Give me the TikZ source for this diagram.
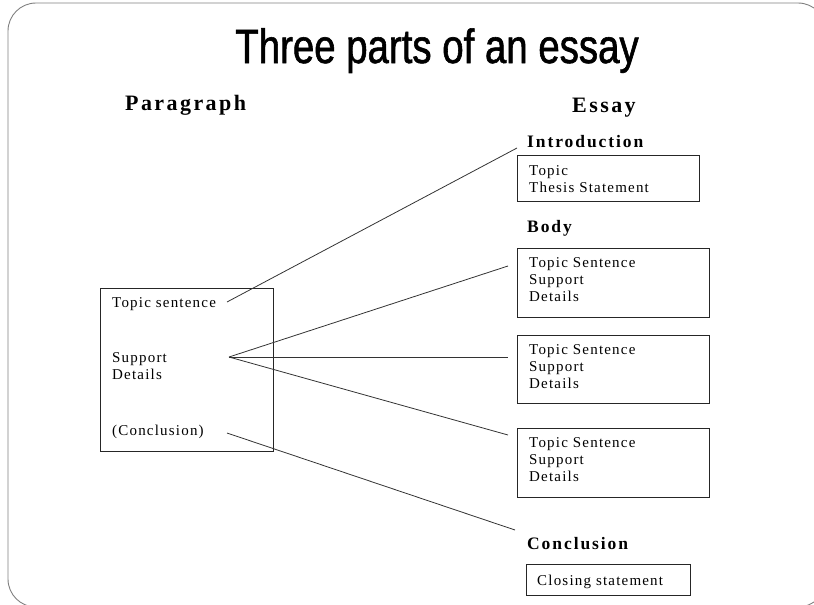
\documentclass[tikz,border=0pt]{standalone}
\usepackage{fontspec}
\newfontfamily\titlefont[FakeStretch=0.80, FakeBold=1.2]{Liberation Sans}
\newfontfamily\txtfont[LetterSpace=8]{Liberation Serif}
\newfontfamily\hdfont[LetterSpace=11]{Liberation Serif}
\tikzset{
  frameline/.style={draw=black!50, line width=0.9pt, rounded corners=28pt},
  boxframe/.style={draw=black!85, line width=1pt, anchor=north west, inner sep=0pt, outer sep=0pt},
  boxtext/.style={font=\txtfont\fontsize{15}{17.3}\selectfont, align=left, inner sep=0pt, anchor=north west},
  headtext/.style={font=\hdfont\bfseries\fontsize{17.5}{20}\selectfont, inner sep=0pt, anchor=base west},
  coltext/.style={font=\hdfont\bfseries\fontsize{22}{24}\selectfont, inner sep=0pt, anchor=base west},
  link/.style={draw=black!80, line width=0.8pt},
}
\begin{document}
\begin{tikzpicture}[x=1pt, y=-1pt]
\useasboundingbox (0,0) rectangle (814,605);
% outer frame
\draw[frameline] (8,3) rectangle (826,607);
% title
\node[font=\titlefont\fontsize{48}{52}\selectfont, anchor=base, inner sep=0pt] (title) at (437,63) {Three parts of an essay};
% column headings
\node[coltext] (paragraph) at (125,110) {Paragraph};
\node[coltext] (essay) at (572,112) {Essay};
% paragraph box
\node[boxframe, minimum width=173pt, minimum height=163pt] (pbox) at (100,288) {};
\node[boxtext] (ptopic) at (112,307-12.11) {\strut Topic sentence};
\node[boxtext] (psupport) at (112,362-12.11) {\strut Support\\Details};
\node[boxtext] (pconcl) at (112,435-12.11) {\strut (Conclusion)};
% essay: introduction
\node[headtext] (intro) at (527,147) {Introduction};
\node[boxframe, minimum width=182pt, minimum height=46pt] (ibox) at (517,155) {};
\node[boxtext] (itext) at (529,175-12.11) {\strut Topic\\Thesis Statement};
% body
\node[headtext] (body) at (527,232) {Body};
\node[boxframe, minimum width=192pt, minimum height=69pt] (bbox1) at (517,248) {};
\node[boxtext] (btext1) at (529,267-12.11) {\strut Topic Sentence\\Support\\Details};
\node[boxframe, minimum width=192pt, minimum height=68pt] (bbox2) at (517,335) {};
\node[boxtext] (btext2) at (529,354-12.11) {\strut Topic Sentence\\Support\\Details};
\node[boxframe, minimum width=192pt, minimum height=69pt] (bbox3) at (517,428) {};
\node[boxtext] (btext3) at (529,447-12.11) {\strut Topic Sentence\\Support\\Details};
% conclusion
\node[headtext] (concl) at (527,549) {Conclusion};
\node[boxframe, minimum width=164pt, minimum height=31pt] (cbox) at (526,564) {};
\node[boxtext] (ctext) at (537,585-12.11) {\strut Closing statement};
% connector end points
\coordinate (tpA) at (227,302);
\coordinate (tpB) at (517,148);
\coordinate (spA) at (229,357);
\coordinate (sp1) at (508,266);
\coordinate (sp2) at (508,357);
\coordinate (sp3) at (508,435);
\coordinate (cpA) at (227,433);
\coordinate (cpB) at (515,530);
% connectors
\draw[link] (tpA) -- (tpB);
\draw[link] (spA) -- (sp1);
\draw[link] (spA) -- (sp2);
\draw[link] (spA) -- (sp3);
\draw[link] (cpA) -- (cpB);
\end{tikzpicture}
\end{document}
